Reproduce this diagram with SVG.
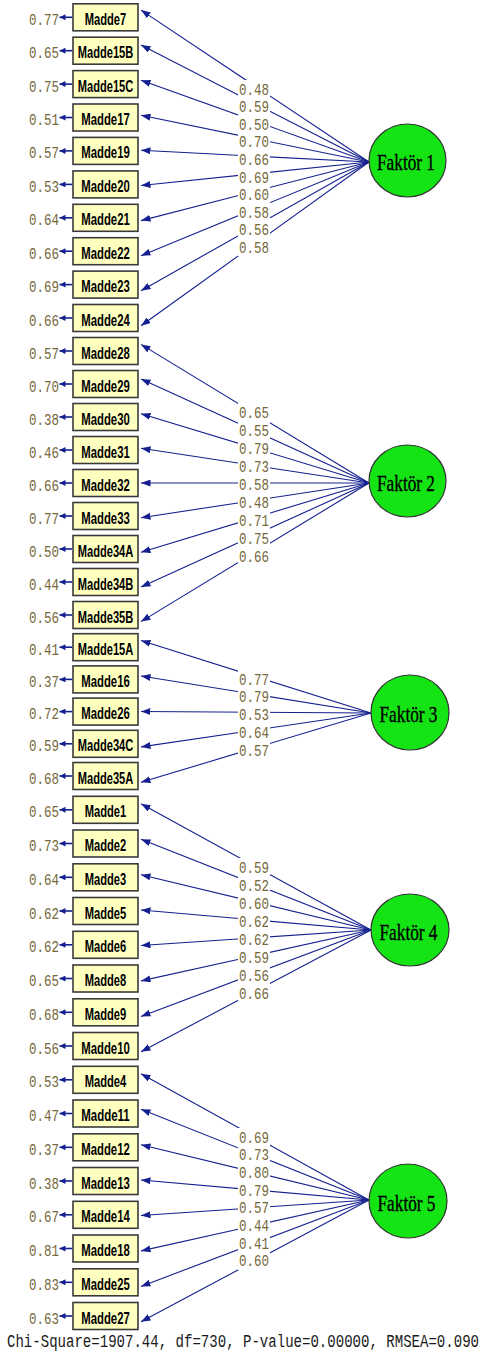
<svg xmlns="http://www.w3.org/2000/svg" width="484" height="1355" viewBox="0 0 484 1355">
<style>
  .box { fill: #FFFFC0; stroke: #3a3a3a; stroke-width: 1.6; }
  .lbl { font-family: "Liberation Sans", Arial, sans-serif; font-weight: bold; font-size: 16.5px; fill: #000; text-anchor: middle; }
  .num { font-family: "Liberation Mono", "Courier New", monospace; font-size: 16.5px; fill: #75683a; }
  .fac { fill: #14E314; stroke: #333; stroke-width: 1.2; }
  .ftxt { font-family: "Liberation Serif", "Times New Roman", serif; font-size: 23px; fill: #000; stroke: #000; stroke-width: 0.35; text-anchor: middle; }
  .path { stroke: #14208f; stroke-width: 1.1; fill: none; marker-end: url(#head); }
  .err { stroke: #14208f; stroke-width: 1.6; fill: none; marker-end: url(#ehead); }
  .mask { fill: #fff; }
  .fit { font-family: "Liberation Mono", "Courier New", monospace; font-size: 14px; fill: #1a1a1a; }
</style>
<defs>
  <marker id="head" markerUnits="userSpaceOnUse" markerWidth="10" markerHeight="7" refX="9.5" refY="3.5" orient="auto">
    <path d="M0,0 L9.5,3.5 L0,7 z" fill="#14208f"/>
  </marker>
  <marker id="ehead" markerUnits="userSpaceOnUse" markerWidth="7" markerHeight="6" refX="6" refY="3" orient="auto">
    <path d="M0,0 L6,3 L0,6 z" fill="#14208f"/>
  </marker>
</defs>
<rect x="0" y="0" width="484" height="1355" fill="#fff"/>

<g id="connectors">
  <!-- Faktör 1 loadings -->
  <line class="path" x1="369" y1="162" x2="141" y2="10.1"/>
  <line class="path" x1="369" y1="162" x2="141" y2="45.1"/>
  <line class="path" x1="369" y1="162" x2="141" y2="80.2"/>
  <line class="path" x1="369" y1="162" x2="141" y2="115.3"/>
  <line class="path" x1="369" y1="162" x2="141" y2="150.3"/>
  <line class="path" x1="369" y1="162" x2="141" y2="185.5"/>
  <line class="path" x1="369" y1="162" x2="141" y2="220.6"/>
  <line class="path" x1="369" y1="162" x2="141" y2="255.7"/>
  <line class="path" x1="369" y1="162" x2="141" y2="290.7"/>
  <line class="path" x1="369" y1="162" x2="141" y2="325.8"/>
  <!-- Faktör 2 loadings -->
  <line class="path" x1="369" y1="483" x2="141" y2="344.4"/>
  <line class="path" x1="369" y1="483" x2="141" y2="379.0"/>
  <line class="path" x1="369" y1="483" x2="141" y2="413.7"/>
  <line class="path" x1="369" y1="483" x2="141" y2="448.3"/>
  <line class="path" x1="369" y1="483" x2="141" y2="483"/>
  <line class="path" x1="369" y1="483" x2="141" y2="517.7"/>
  <line class="path" x1="369" y1="483" x2="141" y2="552.3"/>
  <line class="path" x1="369" y1="483" x2="141" y2="587.0"/>
  <line class="path" x1="369" y1="483" x2="141" y2="621.6"/>
  <!-- Faktör 3 loadings -->
  <line class="path" x1="371" y1="713" x2="141" y2="640.6"/>
  <line class="path" x1="371" y1="713" x2="141" y2="676.0"/>
  <line class="path" x1="371" y1="713" x2="141" y2="711.5"/>
  <line class="path" x1="371" y1="713" x2="141" y2="746.9"/>
  <line class="path" x1="371" y1="713" x2="141" y2="782.3"/>
  <!-- Faktör 4 loadings -->
  <line class="path" x1="371" y1="930" x2="141" y2="803.8"/>
  <line class="path" x1="371" y1="930" x2="141" y2="839.2"/>
  <line class="path" x1="371" y1="930" x2="141" y2="874.7"/>
  <line class="path" x1="371" y1="930" x2="141" y2="910.0"/>
  <line class="path" x1="371" y1="930" x2="141" y2="945.5"/>
  <line class="path" x1="371" y1="930" x2="141" y2="980.9"/>
  <line class="path" x1="371" y1="930" x2="141" y2="1016.4"/>
  <line class="path" x1="371" y1="930" x2="141" y2="1051.8"/>
  <!-- Faktör 5 loadings -->
  <line class="path" x1="369" y1="1200" x2="141" y2="1073.8"/>
  <line class="path" x1="369" y1="1200" x2="141" y2="1109.2"/>
  <line class="path" x1="369" y1="1200" x2="141" y2="1144.7"/>
  <line class="path" x1="369" y1="1200" x2="141" y2="1180.0"/>
  <line class="path" x1="369" y1="1200" x2="141" y2="1215.5"/>
  <line class="path" x1="369" y1="1200" x2="141" y2="1250.9"/>
  <line class="path" x1="369" y1="1200" x2="141" y2="1286.4"/>
  <line class="path" x1="369" y1="1200" x2="141" y2="1321.8"/>

  <!-- error variance arrows -->
  <line class="err" x1="72" y1="17.3" x2="59.5" y2="17.3"/>
  <line class="err" x1="72" y1="50.7" x2="59.5" y2="50.7"/>
  <line class="err" x1="72" y1="84.1" x2="59.5" y2="84.1"/>
  <line class="err" x1="72" y1="117.5" x2="59.5" y2="117.5"/>
  <line class="err" x1="72" y1="150.9" x2="59.5" y2="150.9"/>
  <line class="err" x1="72" y1="184.4" x2="59.5" y2="184.4"/>
  <line class="err" x1="72" y1="217.8" x2="59.5" y2="217.8"/>
  <line class="err" x1="72" y1="251.2" x2="59.5" y2="251.2"/>
  <line class="err" x1="72" y1="284.6" x2="59.5" y2="284.6"/>
  <line class="err" x1="72" y1="318" x2="59.5" y2="318"/>
  <line class="err" x1="72" y1="351" x2="59.5" y2="351"/>
  <line class="err" x1="72" y1="384" x2="59.5" y2="384"/>
  <line class="err" x1="72" y1="417" x2="59.5" y2="417"/>
  <line class="err" x1="72" y1="450" x2="59.5" y2="450"/>
  <line class="err" x1="72" y1="483" x2="59.5" y2="483"/>
  <line class="err" x1="72" y1="516" x2="59.5" y2="516"/>
  <line class="err" x1="72" y1="549" x2="59.5" y2="549"/>
  <line class="err" x1="72" y1="582" x2="59.5" y2="582"/>
  <line class="err" x1="72" y1="615" x2="59.5" y2="615"/>
  <line class="err" x1="72" y1="647.2" x2="59.5" y2="647.2"/>
  <line class="err" x1="72" y1="679.4" x2="59.5" y2="679.4"/>
  <line class="err" x1="72" y1="711.6" x2="59.5" y2="711.6"/>
  <line class="err" x1="72" y1="743.8" x2="59.5" y2="743.8"/>
  <line class="err" x1="72" y1="776" x2="59.5" y2="776"/>
  <line class="err" x1="72" y1="809.8" x2="59.5" y2="809.8"/>
  <line class="err" x1="72" y1="843.5" x2="59.5" y2="843.5"/>
  <line class="err" x1="72" y1="877.3" x2="59.5" y2="877.3"/>
  <line class="err" x1="72" y1="911" x2="59.5" y2="911"/>
  <line class="err" x1="72" y1="944.8" x2="59.5" y2="944.8"/>
  <line class="err" x1="72" y1="978.5" x2="59.5" y2="978.5"/>
  <line class="err" x1="72" y1="1012.3" x2="59.5" y2="1012.3"/>
  <line class="err" x1="72" y1="1046" x2="59.5" y2="1046"/>
  <line class="err" x1="72" y1="1079.8" x2="59.5" y2="1079.8"/>
  <line class="err" x1="72" y1="1113.5" x2="59.5" y2="1113.5"/>
  <line class="err" x1="72" y1="1147.3" x2="59.5" y2="1147.3"/>
  <line class="err" x1="72" y1="1181" x2="59.5" y2="1181"/>
  <line class="err" x1="72" y1="1214.8" x2="59.5" y2="1214.8"/>
  <line class="err" x1="72" y1="1248.5" x2="59.5" y2="1248.5"/>
  <line class="err" x1="72" y1="1282.3" x2="59.5" y2="1282.3"/>
  <line class="err" x1="72" y1="1316" x2="59.5" y2="1316"/>

  <!-- loading labels sit on a white strip over the paths -->
  <rect class="mask" x="238" y="80" width="32" height="176.5"/>
  <rect class="mask" x="238" y="403" width="32" height="162"/>
  <rect class="mask" x="238" y="670" width="32" height="89"/>
  <rect class="mask" x="238" y="858" width="32" height="144"/>
  <rect class="mask" x="238" y="1128" width="32" height="142"/>

  <g class="num">
    <text x="239" y="94.5" textLength="30" lengthAdjust="spacingAndGlyphs">0.48</text>
    <text x="239" y="112.1" textLength="30" lengthAdjust="spacingAndGlyphs">0.59</text>
    <text x="239" y="129.7" textLength="30" lengthAdjust="spacingAndGlyphs">0.50</text>
    <text x="239" y="147.3" textLength="30" lengthAdjust="spacingAndGlyphs">0.70</text>
    <text x="239" y="164.9" textLength="30" lengthAdjust="spacingAndGlyphs">0.66</text>
    <text x="239" y="182.5" textLength="30" lengthAdjust="spacingAndGlyphs">0.69</text>
    <text x="239" y="200.1" textLength="30" lengthAdjust="spacingAndGlyphs">0.60</text>
    <text x="239" y="217.7" textLength="30" lengthAdjust="spacingAndGlyphs">0.58</text>
    <text x="239" y="235.3" textLength="30" lengthAdjust="spacingAndGlyphs">0.56</text>
    <text x="239" y="252.9" textLength="30" lengthAdjust="spacingAndGlyphs">0.58</text>

    <text x="239" y="417.5" textLength="30" lengthAdjust="spacingAndGlyphs">0.65</text>
    <text x="239" y="435.5" textLength="30" lengthAdjust="spacingAndGlyphs">0.55</text>
    <text x="239" y="453.5" textLength="30" lengthAdjust="spacingAndGlyphs">0.79</text>
    <text x="239" y="471.5" textLength="30" lengthAdjust="spacingAndGlyphs">0.73</text>
    <text x="239" y="489.5" textLength="30" lengthAdjust="spacingAndGlyphs">0.58</text>
    <text x="239" y="507.5" textLength="30" lengthAdjust="spacingAndGlyphs">0.48</text>
    <text x="239" y="525.5" textLength="30" lengthAdjust="spacingAndGlyphs">0.71</text>
    <text x="239" y="543.5" textLength="30" lengthAdjust="spacingAndGlyphs">0.75</text>
    <text x="239" y="561.5" textLength="30" lengthAdjust="spacingAndGlyphs">0.66</text>

    <text x="239" y="684.5" textLength="30" lengthAdjust="spacingAndGlyphs">0.77</text>
    <text x="239" y="702.3" textLength="30" lengthAdjust="spacingAndGlyphs">0.79</text>
    <text x="239" y="720.1" textLength="30" lengthAdjust="spacingAndGlyphs">0.53</text>
    <text x="239" y="737.9" textLength="30" lengthAdjust="spacingAndGlyphs">0.64</text>
    <text x="239" y="755.7" textLength="30" lengthAdjust="spacingAndGlyphs">0.57</text>

    <text x="239" y="872.5" textLength="30" lengthAdjust="spacingAndGlyphs">0.59</text>
    <text x="239" y="890.5" textLength="30" lengthAdjust="spacingAndGlyphs">0.52</text>
    <text x="239" y="908.5" textLength="30" lengthAdjust="spacingAndGlyphs">0.60</text>
    <text x="239" y="926.5" textLength="30" lengthAdjust="spacingAndGlyphs">0.62</text>
    <text x="239" y="944.5" textLength="30" lengthAdjust="spacingAndGlyphs">0.62</text>
    <text x="239" y="962.5" textLength="30" lengthAdjust="spacingAndGlyphs">0.59</text>
    <text x="239" y="980.5" textLength="30" lengthAdjust="spacingAndGlyphs">0.56</text>
    <text x="239" y="998.5" textLength="30" lengthAdjust="spacingAndGlyphs">0.66</text>

    <text x="239" y="1142.5" textLength="30" lengthAdjust="spacingAndGlyphs">0.69</text>
    <text x="239" y="1160.2" textLength="30" lengthAdjust="spacingAndGlyphs">0.73</text>
    <text x="239" y="1177.9" textLength="30" lengthAdjust="spacingAndGlyphs">0.80</text>
    <text x="239" y="1195.6" textLength="30" lengthAdjust="spacingAndGlyphs">0.79</text>
    <text x="239" y="1213.3" textLength="30" lengthAdjust="spacingAndGlyphs">0.57</text>
    <text x="239" y="1231" textLength="30" lengthAdjust="spacingAndGlyphs">0.44</text>
    <text x="239" y="1248.7" textLength="30" lengthAdjust="spacingAndGlyphs">0.41</text>
    <text x="239" y="1266.4" textLength="30" lengthAdjust="spacingAndGlyphs">0.60</text>
  </g>
</g>

<!-- observed variables: box, name, error variance -->
<g id="madde7"><rect class="box" x="73" y="3.8" width="65" height="27"/><text class="lbl" x="105.5" y="24.8" textLength="41.5" lengthAdjust="spacingAndGlyphs">Madde7</text><text class="num" x="29" y="24.8" textLength="30" lengthAdjust="spacingAndGlyphs">0.77</text></g>
<g id="madde15b"><rect class="box" x="73" y="37.2" width="65" height="27"/><text class="lbl" x="105.5" y="58.2" textLength="55.5" lengthAdjust="spacingAndGlyphs">Madde15B</text><text class="num" x="29" y="58.2" textLength="30" lengthAdjust="spacingAndGlyphs">0.65</text></g>
<g id="madde15c"><rect class="box" x="73" y="70.6" width="65" height="27"/><text class="lbl" x="105.5" y="91.6" textLength="55.5" lengthAdjust="spacingAndGlyphs">Madde15C</text><text class="num" x="29" y="91.6" textLength="30" lengthAdjust="spacingAndGlyphs">0.75</text></g>
<g id="madde17"><rect class="box" x="73" y="104" width="65" height="27"/><text class="lbl" x="105.5" y="125" textLength="48.5" lengthAdjust="spacingAndGlyphs">Madde17</text><text class="num" x="29" y="125" textLength="30" lengthAdjust="spacingAndGlyphs">0.51</text></g>
<g id="madde19"><rect class="box" x="73" y="137.4" width="65" height="27"/><text class="lbl" x="105.5" y="158.4" textLength="48.5" lengthAdjust="spacingAndGlyphs">Madde19</text><text class="num" x="29" y="158.4" textLength="30" lengthAdjust="spacingAndGlyphs">0.57</text></g>
<g id="madde20"><rect class="box" x="73" y="170.9" width="65" height="27"/><text class="lbl" x="105.5" y="191.9" textLength="48.5" lengthAdjust="spacingAndGlyphs">Madde20</text><text class="num" x="29" y="191.9" textLength="30" lengthAdjust="spacingAndGlyphs">0.53</text></g>
<g id="madde21"><rect class="box" x="73" y="204.3" width="65" height="27"/><text class="lbl" x="105.5" y="225.3" textLength="48.5" lengthAdjust="spacingAndGlyphs">Madde21</text><text class="num" x="29" y="225.3" textLength="30" lengthAdjust="spacingAndGlyphs">0.64</text></g>
<g id="madde22"><rect class="box" x="73" y="237.7" width="65" height="27"/><text class="lbl" x="105.5" y="258.7" textLength="48.5" lengthAdjust="spacingAndGlyphs">Madde22</text><text class="num" x="29" y="258.7" textLength="30" lengthAdjust="spacingAndGlyphs">0.66</text></g>
<g id="madde23"><rect class="box" x="73" y="271.1" width="65" height="27"/><text class="lbl" x="105.5" y="292.1" textLength="48.5" lengthAdjust="spacingAndGlyphs">Madde23</text><text class="num" x="29" y="292.1" textLength="30" lengthAdjust="spacingAndGlyphs">0.69</text></g>
<g id="madde24"><rect class="box" x="73" y="304.5" width="65" height="27"/><text class="lbl" x="105.5" y="325.5" textLength="48.5" lengthAdjust="spacingAndGlyphs">Madde24</text><text class="num" x="29" y="325.5" textLength="30" lengthAdjust="spacingAndGlyphs">0.66</text></g>
<g id="madde28"><rect class="box" x="73" y="337.5" width="65" height="27"/><text class="lbl" x="105.5" y="358.5" textLength="48.5" lengthAdjust="spacingAndGlyphs">Madde28</text><text class="num" x="29" y="358.5" textLength="30" lengthAdjust="spacingAndGlyphs">0.57</text></g>
<g id="madde29"><rect class="box" x="73" y="370.5" width="65" height="27"/><text class="lbl" x="105.5" y="391.5" textLength="48.5" lengthAdjust="spacingAndGlyphs">Madde29</text><text class="num" x="29" y="391.5" textLength="30" lengthAdjust="spacingAndGlyphs">0.70</text></g>
<g id="madde30"><rect class="box" x="73" y="403.5" width="65" height="27"/><text class="lbl" x="105.5" y="424.5" textLength="48.5" lengthAdjust="spacingAndGlyphs">Madde30</text><text class="num" x="29" y="424.5" textLength="30" lengthAdjust="spacingAndGlyphs">0.38</text></g>
<g id="madde31"><rect class="box" x="73" y="436.5" width="65" height="27"/><text class="lbl" x="105.5" y="457.5" textLength="48.5" lengthAdjust="spacingAndGlyphs">Madde31</text><text class="num" x="29" y="457.5" textLength="30" lengthAdjust="spacingAndGlyphs">0.46</text></g>
<g id="madde32"><rect class="box" x="73" y="469.5" width="65" height="27"/><text class="lbl" x="105.5" y="490.5" textLength="48.5" lengthAdjust="spacingAndGlyphs">Madde32</text><text class="num" x="29" y="490.5" textLength="30" lengthAdjust="spacingAndGlyphs">0.66</text></g>
<g id="madde33"><rect class="box" x="73" y="502.5" width="65" height="27"/><text class="lbl" x="105.5" y="523.5" textLength="48.5" lengthAdjust="spacingAndGlyphs">Madde33</text><text class="num" x="29" y="523.5" textLength="30" lengthAdjust="spacingAndGlyphs">0.77</text></g>
<g id="madde34a"><rect class="box" x="73" y="535.5" width="65" height="27"/><text class="lbl" x="105.5" y="556.5" textLength="55.5" lengthAdjust="spacingAndGlyphs">Madde34A</text><text class="num" x="29" y="556.5" textLength="30" lengthAdjust="spacingAndGlyphs">0.50</text></g>
<g id="madde34b"><rect class="box" x="73" y="568.5" width="65" height="27"/><text class="lbl" x="105.5" y="589.5" textLength="55.5" lengthAdjust="spacingAndGlyphs">Madde34B</text><text class="num" x="29" y="589.5" textLength="30" lengthAdjust="spacingAndGlyphs">0.44</text></g>
<g id="madde35b"><rect class="box" x="73" y="601.5" width="65" height="27"/><text class="lbl" x="105.5" y="622.5" textLength="55.5" lengthAdjust="spacingAndGlyphs">Madde35B</text><text class="num" x="29" y="622.5" textLength="30" lengthAdjust="spacingAndGlyphs">0.56</text></g>
<g id="madde15a"><rect class="box" x="73" y="633.7" width="65" height="27"/><text class="lbl" x="105.5" y="654.7" textLength="55.5" lengthAdjust="spacingAndGlyphs">Madde15A</text><text class="num" x="29" y="654.7" textLength="30" lengthAdjust="spacingAndGlyphs">0.41</text></g>
<g id="madde16"><rect class="box" x="73" y="665.9" width="65" height="27"/><text class="lbl" x="105.5" y="686.9" textLength="48.5" lengthAdjust="spacingAndGlyphs">Madde16</text><text class="num" x="29" y="686.9" textLength="30" lengthAdjust="spacingAndGlyphs">0.37</text></g>
<g id="madde26"><rect class="box" x="73" y="698.1" width="65" height="27"/><text class="lbl" x="105.5" y="719.1" textLength="48.5" lengthAdjust="spacingAndGlyphs">Madde26</text><text class="num" x="29" y="719.1" textLength="30" lengthAdjust="spacingAndGlyphs">0.72</text></g>
<g id="madde34c"><rect class="box" x="73" y="730.3" width="65" height="27"/><text class="lbl" x="105.5" y="751.3" textLength="55.5" lengthAdjust="spacingAndGlyphs">Madde34C</text><text class="num" x="29" y="751.3" textLength="30" lengthAdjust="spacingAndGlyphs">0.59</text></g>
<g id="madde35a"><rect class="box" x="73" y="762.5" width="65" height="27"/><text class="lbl" x="105.5" y="783.5" textLength="55.5" lengthAdjust="spacingAndGlyphs">Madde35A</text><text class="num" x="29" y="783.5" textLength="30" lengthAdjust="spacingAndGlyphs">0.68</text></g>
<g id="madde1"><rect class="box" x="73" y="796.3" width="65" height="27"/><text class="lbl" x="105.5" y="817.3" textLength="41.5" lengthAdjust="spacingAndGlyphs">Madde1</text><text class="num" x="29" y="817.3" textLength="30" lengthAdjust="spacingAndGlyphs">0.65</text></g>
<g id="madde2"><rect class="box" x="73" y="830" width="65" height="27"/><text class="lbl" x="105.5" y="851" textLength="41.5" lengthAdjust="spacingAndGlyphs">Madde2</text><text class="num" x="29" y="851" textLength="30" lengthAdjust="spacingAndGlyphs">0.73</text></g>
<g id="madde3"><rect class="box" x="73" y="863.8" width="65" height="27"/><text class="lbl" x="105.5" y="884.8" textLength="41.5" lengthAdjust="spacingAndGlyphs">Madde3</text><text class="num" x="29" y="884.8" textLength="30" lengthAdjust="spacingAndGlyphs">0.64</text></g>
<g id="madde5"><rect class="box" x="73" y="897.5" width="65" height="27"/><text class="lbl" x="105.5" y="918.5" textLength="41.5" lengthAdjust="spacingAndGlyphs">Madde5</text><text class="num" x="29" y="918.5" textLength="30" lengthAdjust="spacingAndGlyphs">0.62</text></g>
<g id="madde6"><rect class="box" x="73" y="931.3" width="65" height="27"/><text class="lbl" x="105.5" y="952.3" textLength="41.5" lengthAdjust="spacingAndGlyphs">Madde6</text><text class="num" x="29" y="952.3" textLength="30" lengthAdjust="spacingAndGlyphs">0.62</text></g>
<g id="madde8"><rect class="box" x="73" y="965" width="65" height="27"/><text class="lbl" x="105.5" y="986" textLength="41.5" lengthAdjust="spacingAndGlyphs">Madde8</text><text class="num" x="29" y="986" textLength="30" lengthAdjust="spacingAndGlyphs">0.65</text></g>
<g id="madde9"><rect class="box" x="73" y="998.8" width="65" height="27"/><text class="lbl" x="105.5" y="1019.8" textLength="41.5" lengthAdjust="spacingAndGlyphs">Madde9</text><text class="num" x="29" y="1019.8" textLength="30" lengthAdjust="spacingAndGlyphs">0.68</text></g>
<g id="madde10"><rect class="box" x="73" y="1032.5" width="65" height="27"/><text class="lbl" x="105.5" y="1053.5" textLength="48.5" lengthAdjust="spacingAndGlyphs">Madde10</text><text class="num" x="29" y="1053.5" textLength="30" lengthAdjust="spacingAndGlyphs">0.56</text></g>
<g id="madde4"><rect class="box" x="73" y="1066.3" width="65" height="27"/><text class="lbl" x="105.5" y="1087.3" textLength="41.5" lengthAdjust="spacingAndGlyphs">Madde4</text><text class="num" x="29" y="1087.3" textLength="30" lengthAdjust="spacingAndGlyphs">0.53</text></g>
<g id="madde11"><rect class="box" x="73" y="1100" width="65" height="27"/><text class="lbl" x="105.5" y="1121" textLength="48.5" lengthAdjust="spacingAndGlyphs">Madde11</text><text class="num" x="29" y="1121" textLength="30" lengthAdjust="spacingAndGlyphs">0.47</text></g>
<g id="madde12"><rect class="box" x="73" y="1133.8" width="65" height="27"/><text class="lbl" x="105.5" y="1154.8" textLength="48.5" lengthAdjust="spacingAndGlyphs">Madde12</text><text class="num" x="29" y="1154.8" textLength="30" lengthAdjust="spacingAndGlyphs">0.37</text></g>
<g id="madde13"><rect class="box" x="73" y="1167.5" width="65" height="27"/><text class="lbl" x="105.5" y="1188.5" textLength="48.5" lengthAdjust="spacingAndGlyphs">Madde13</text><text class="num" x="29" y="1188.5" textLength="30" lengthAdjust="spacingAndGlyphs">0.38</text></g>
<g id="madde14"><rect class="box" x="73" y="1201.3" width="65" height="27"/><text class="lbl" x="105.5" y="1222.3" textLength="48.5" lengthAdjust="spacingAndGlyphs">Madde14</text><text class="num" x="29" y="1222.3" textLength="30" lengthAdjust="spacingAndGlyphs">0.67</text></g>
<g id="madde18"><rect class="box" x="73" y="1235" width="65" height="27"/><text class="lbl" x="105.5" y="1256" textLength="48.5" lengthAdjust="spacingAndGlyphs">Madde18</text><text class="num" x="29" y="1256" textLength="30" lengthAdjust="spacingAndGlyphs">0.81</text></g>
<g id="madde25"><rect class="box" x="73" y="1268.8" width="65" height="27"/><text class="lbl" x="105.5" y="1289.8" textLength="48.5" lengthAdjust="spacingAndGlyphs">Madde25</text><text class="num" x="29" y="1289.8" textLength="30" lengthAdjust="spacingAndGlyphs">0.83</text></g>
<g id="madde27"><rect class="box" x="73" y="1302.5" width="65" height="27"/><text class="lbl" x="105.5" y="1323.5" textLength="48.5" lengthAdjust="spacingAndGlyphs">Madde27</text><text class="num" x="29" y="1323.5" textLength="30" lengthAdjust="spacingAndGlyphs">0.63</text></g>

<!-- latent factors -->
<g id="faktor1"><ellipse class="fac" cx="407.5" cy="160.5" rx="38.5" ry="36.5"/><text class="ftxt" x="406" y="170" textLength="58" lengthAdjust="spacingAndGlyphs">Faktör 1</text></g>
<g id="faktor2"><ellipse class="fac" cx="407.5" cy="481" rx="38.5" ry="36"/><text class="ftxt" x="406" y="490.5" textLength="58" lengthAdjust="spacingAndGlyphs">Faktör 2</text></g>
<g id="faktor3"><ellipse class="fac" cx="410" cy="712.5" rx="39" ry="37.5"/><text class="ftxt" x="408.5" y="722" textLength="58" lengthAdjust="spacingAndGlyphs">Faktör 3</text></g>
<g id="faktor4"><ellipse class="fac" cx="410" cy="930" rx="39" ry="36"/><text class="ftxt" x="408.5" y="939.5" textLength="58" lengthAdjust="spacingAndGlyphs">Faktör 4</text></g>
<g id="faktor5"><ellipse class="fac" cx="408" cy="1201" rx="39" ry="37"/><text class="ftxt" x="406.5" y="1210.5" textLength="58" lengthAdjust="spacingAndGlyphs">Faktör 5</text></g>

<!-- fit statistics, stretched vertically to the tall terminal face -->
<text class="fit" transform="translate(7,1347) scale(1,1.3)" x="0" y="0" textLength="472" lengthAdjust="spacingAndGlyphs">Chi-Square=1907.44, df=730, P-value=0.00000, RMSEA=0.090</text>
</svg>
